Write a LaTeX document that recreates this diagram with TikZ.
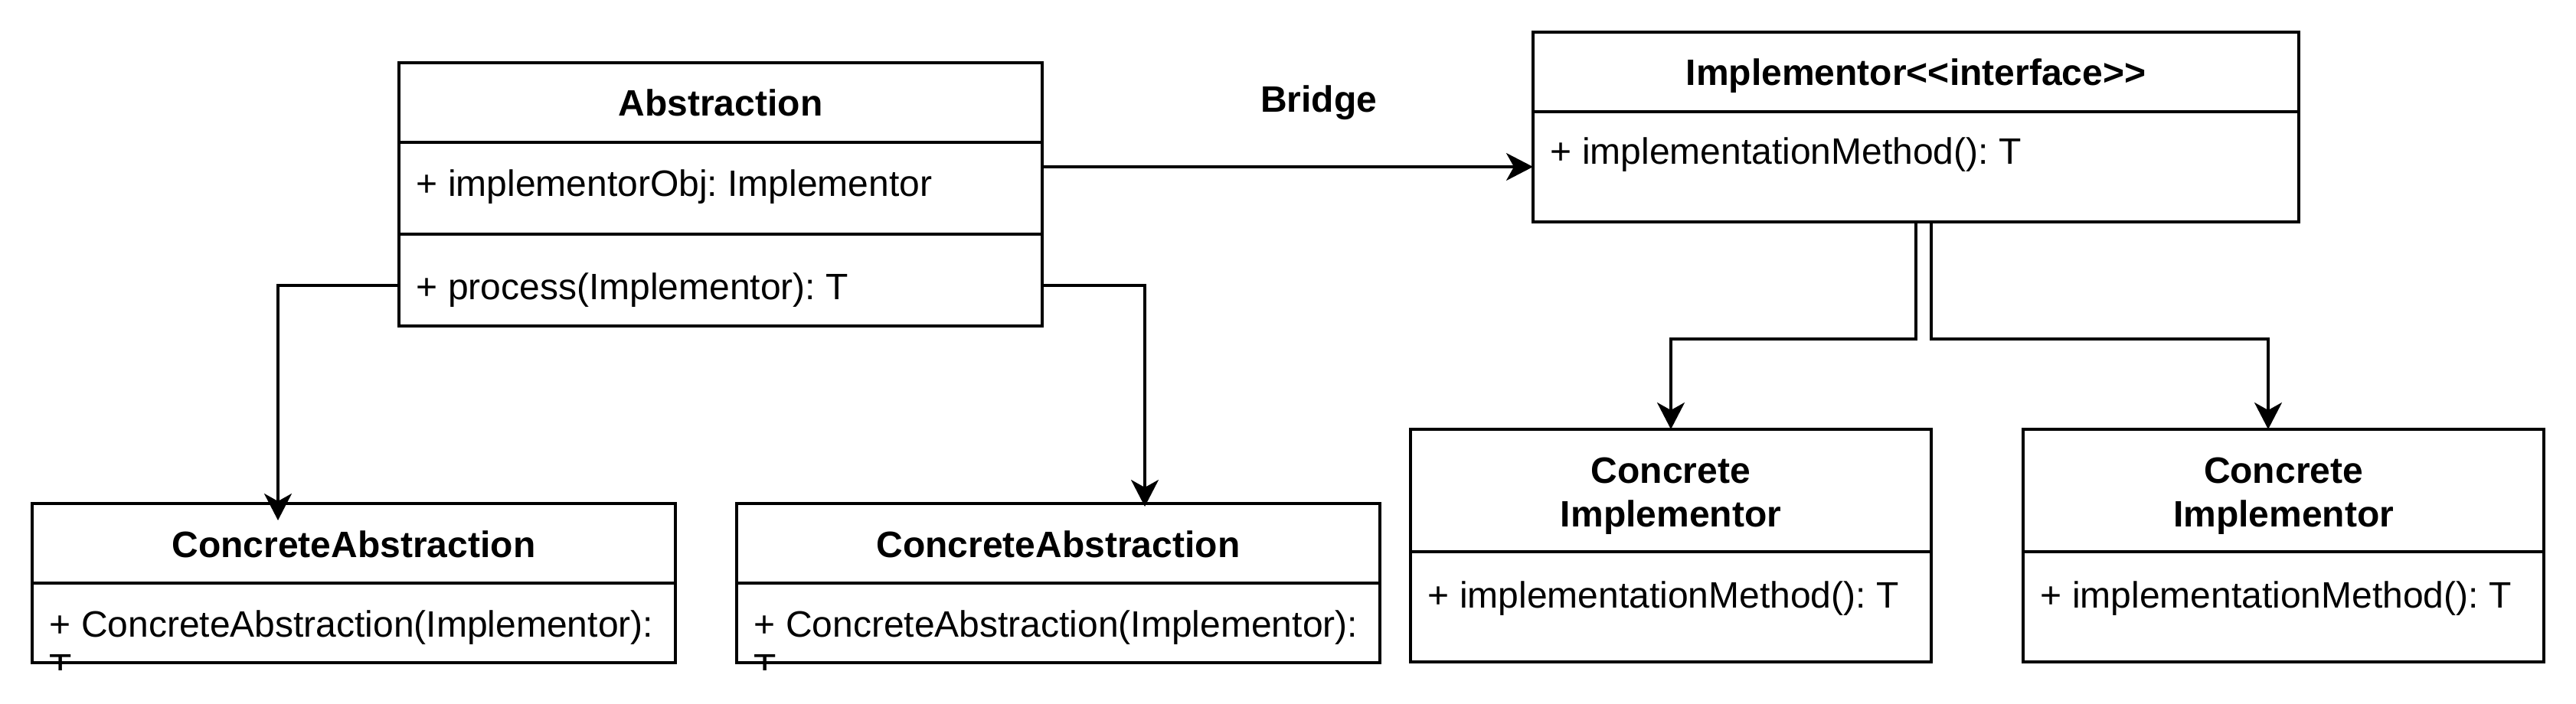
\documentclass[tikz,border=0pt]{standalone}
\usepackage{fontspec}
\newfontfamily\umlfont{Liberation Sans}
\usetikzlibrary{arrows.meta,calc}
\definecolor{BoxClr}{rgb}{0,0,0}
\frenchspacing

\begin{document}
\begin{tikzpicture}[x=1pt,y=-1pt,
  font=\umlfont\fontsize{12}{14}\selectfont,
  box/.style={draw=BoxClr,line width=0.8pt,anchor=north west,inner sep=0pt,outer sep=0pt},
  head/.style={box,font=\umlfont\bfseries\fontsize{12}{14.25}\selectfont,text height=9pt,text depth=0pt,align=center},
  member/.style={anchor=base west,inner sep=0pt,align=left},
  link/.style={draw=BoxClr,line width=0.8pt,-{Stealth[length=8.75pt,width=9pt,inset=2.5pt]}}]
\useasboundingbox (0,0) rectangle (841,230);

\coordinate (k1) at (90.75,93.25);
\coordinate (k2) at (373.75,93.25);
\coordinate (k3) at (625.5,110.75);
\coordinate (k4) at (630.5,110.75);
\coordinate (k5) at (740.5,110.75);

\node[head,minimum width=210pt,minimum height=26pt] (abs) at (130.25,20.5) {Abstraction};
\node[box,minimum width=210pt,minimum height=30pt] (absA) at (abs.south west) {};
\node[box,minimum width=210pt,minimum height=30pt] (absM) at (absA.south west) {};
\node[member] (absAt) at ($(absA.north west)+(5.5,17.75)$) {+ implementorObj: Implementor};
\node[member] (absMt) at ($(absM.north west)+(5.5,21.5)$) {+ process(Implementor): T};

\node[anchor=base,inner sep=0pt,font=\umlfont\bfseries\fontsize{12}{14}\selectfont] (bridge) at (430.5,36.75) {Bridge};

\node[head,minimum width=250pt,minimum height=26pt] (impl) at (500.5,10.5) {Implementor<<interface>>};
\node[box,minimum width=250pt,minimum height=36pt] (implM) at (impl.south west) {};
\node[member] (implMt) at ($(implM.north west)+(5.5,17.25)$) {+ implementationMethod(): T};

\node[head,minimum width=170pt,minimum height=40pt,text height=23.5pt] (ci1) at (460.5,140.25) {Concrete\\Implementor};
\node[box,minimum width=170pt,minimum height=36pt] (ci1M) at (ci1.south west) {};
\node[member] (ci1Mt) at ($(ci1M.north west)+(5.5,18.35)$) {+ implementationMethod(): T};

\node[head,minimum width=170pt,minimum height=40pt,text height=23.5pt] (ci2) at (660.5,140.25) {Concrete\\Implementor};
\node[box,minimum width=170pt,minimum height=36pt] (ci2M) at (ci2.south west) {};
\node[member] (ci2Mt) at ($(ci2M.north west)+(5.5,18.35)$) {+ implementationMethod(): T};

\node[head,minimum width=210pt,minimum height=26pt] (ca1) at (10.5,164.5) {ConcreteAbstraction};
\node[box,minimum width=210pt,minimum height=26pt] (ca1M) at (ca1.south west) {};
\node[head,minimum width=210pt,minimum height=26pt] (ca2) at (240.5,164.5) {ConcreteAbstraction};
\node[box,minimum width=210pt,minimum height=26pt] (ca2M) at (ca2.south west) {};
\begin{scope}
\clip (0,0) rectangle (841,218.75);
\node[member] (ca1Mt) at ($(ca1M.north west)+(5.5,31.6)$) {+ ConcreteAbstraction(Implementor):\\T};
\node[member] (ca2Mt) at ($(ca2M.north west)+(5.5,31.6)$) {+ ConcreteAbstraction(Implementor):\\T};
\end{scope}

\draw[link] (absA.east |- implM.west) -- (implM.west);
\draw[link,shorten >=-5.5pt] (absM.west |- k1) -| (k1 |- ca1.north);
\draw[link,shorten >=-1pt] (absM.east |- k2) -| (k2 |- ca2.north);
\draw[link] (implM.south) -- (k3) -| (ci1.north);
\draw[link] (implM.south -| k4) -- (k4) -| (k5 |- ci2.north);

\end{tikzpicture}
\end{document}
